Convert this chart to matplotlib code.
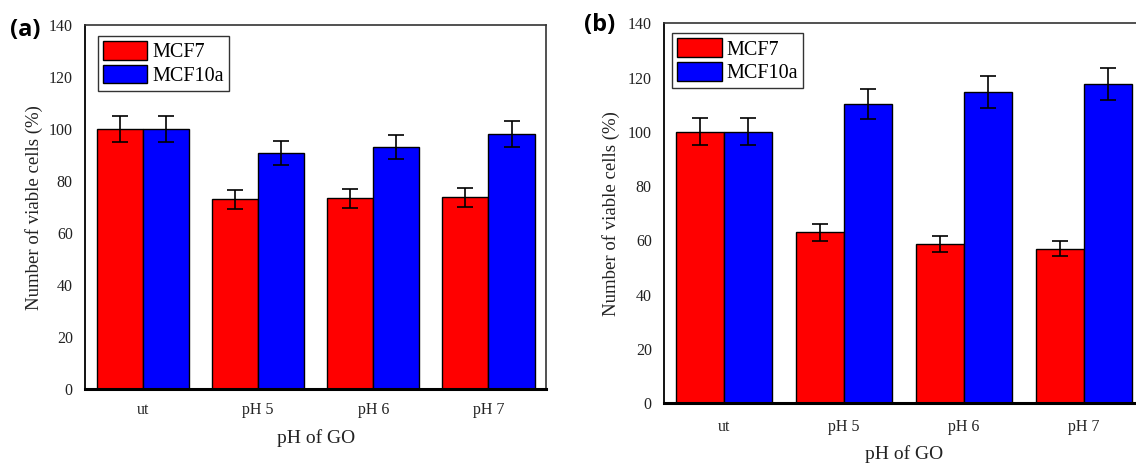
import numpy as np
import matplotlib
matplotlib.use('Agg')
import matplotlib.pyplot as plt

categories = ['ut', 'pH 5', 'pH 6', 'pH 7']
series_names = ['MCF7', 'MCF10a']

# panel (a)
a_mcf7 = [100, 73.0, 73.4, 73.8]
a_mcf7_err = [5.0, 3.7, 3.7, 3.7]
a_mcf10a = [100, 90.9, 93.2, 98.3]
a_mcf10a_err = [5.0, 4.5, 4.7, 5.0]

# panel (b)
b_mcf7 = [100, 63.0, 58.8, 57.0]
b_mcf7_err = [5.0, 3.2, 2.9, 2.9]
b_mcf10a = [100, 110.2, 114.7, 117.8]
b_mcf10a_err = [5.0, 5.5, 5.8, 5.9]

plt.rcParams['font.family'] = ['Liberation Serif', 'DejaVu Serif']

fig = plt.figure(figsize=(11.36, 4.66), dpi=100)


def panel(rect, mcf7, mcf7_err, mcf10a, mcf10a_err, leg_xy, xpad):
    ax = fig.add_axes(rect)
    x = np.arange(len(categories))
    w = 0.4
    ekw = dict(elinewidth=1.2, capthick=1.2, ecolor='black')
    ax.bar(x - w / 2, mcf7, w, color='#ff0000', edgecolor='black', linewidth=1.0,
           yerr=mcf7_err, capsize=5.5, error_kw=ekw, label=series_names[0])
    ax.bar(x + w / 2, mcf10a, w, color='#0000ff', edgecolor='black', linewidth=1.0,
           yerr=mcf10a_err, capsize=5.5, error_kw=ekw, label=series_names[1])
    ax.set_xlim(-0.5, 3.5)
    ax.set_ylim(0, 140)
    ax.set_yticks(np.arange(0, 141, 20))
    ax.set_xticks(x)
    ax.set_xticklabels(categories)
    ax.tick_params(axis='both', length=0, labelsize=11.5, colors='#222222')
    ax.tick_params(axis='y', pad=9)
    ax.tick_params(axis='x', pad=xpad)
    for s in ['top', 'right']:
        ax.spines[s].set_linewidth(1.2)
        ax.spines[s].set_color('#333333')
    ax.spines['left'].set_linewidth(1.3)
    ax.spines['bottom'].set_linewidth(2.2)
    ax.set_ylabel('Number of viable cells (%)', fontsize=13.5, color='#222222')
    ax.set_xlabel('pH of GO', fontsize=14, color='#222222')
    ax.yaxis.set_label_coords(-0.092, 0.5)
    ax.xaxis.set_label_coords(0.5, -0.11)
    leg = ax.legend(loc='upper left', bbox_to_anchor=leg_xy, borderaxespad=0,
                    fontsize=14.5, fancybox=False, framealpha=1,
                    handlelength=2.2, handleheight=1.05, handletextpad=0.25,
                    labelspacing=0.12, borderpad=0.25)
    leg.get_frame().set_edgecolor('#333333')
    leg.get_frame().set_linewidth(1.0)
    return ax


panel([0.0751, 0.1652, 0.4056, 0.7805], a_mcf7, a_mcf7_err, a_mcf10a, a_mcf10a_err,
      (0.027, 0.9706), 9)
panel([0.5848, 0.1345, 0.4222, 0.8155], b_mcf7, b_mcf7_err, b_mcf10a, b_mcf10a_err,
      (0.0167, 0.9737), 11)

fig.text(10 / 1136, 1 - 30 / 466, '(a)', fontsize=17, fontweight='bold',
         family=['Open Sans', 'DejaVu Sans'], va='center', ha='left')
fig.text(584 / 1136, 1 - 25 / 466, '(b)', fontsize=17, fontweight='bold',
         family=['Open Sans', 'DejaVu Sans'], va='center', ha='left')

fig.savefig('out.png', dpi=100)
